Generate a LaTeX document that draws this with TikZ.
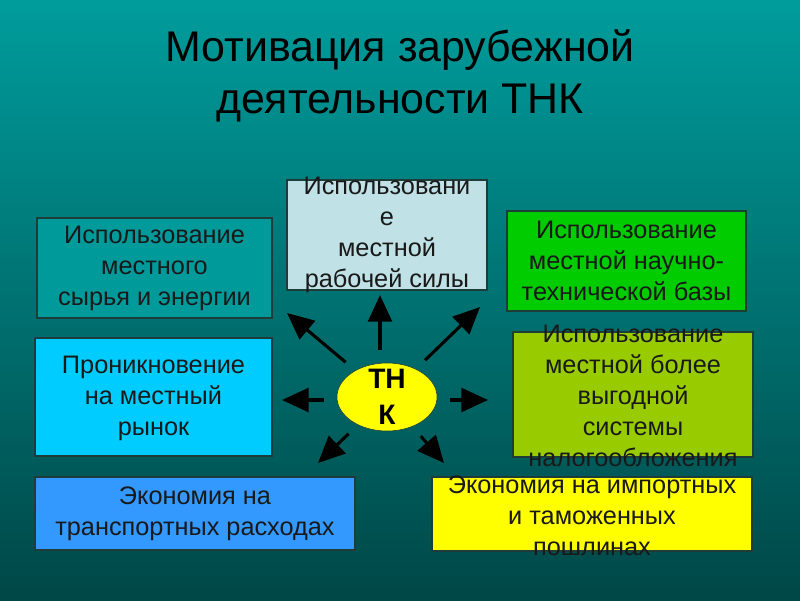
\documentclass[tikz,border=0pt]{standalone}
\usepackage{fontspec}
\setmainfont{Liberation Sans}
\usepackage{xcolor}
\usetikzlibrary{arrows.meta,shapes.geometric}
\definecolor{BgTop}{HTML}{009C9C}
\definecolor{BgBottom}{HTML}{004747}
\definecolor{BoxEdge}{HTML}{1E3D38}
\definecolor{RawFill}{HTML}{009A9A}
\definecolor{LabourFill}{HTML}{C0E2E6}
\definecolor{ScienceFill}{HTML}{00CC00}
\definecolor{TaxFill}{HTML}{99CC00}
\definecolor{MarketFill}{HTML}{00CCFF}
\definecolor{TransportFill}{HTML}{3399FF}
\definecolor{CustomsFill}{HTML}{FFFF00}
\definecolor{TnkFill}{HTML}{FFFF00}

\begin{document}
\begin{tikzpicture}[
	x=0.025cm, y=-0.025cm, % one unit = one slide pixel, y runs downward
	% Style for the slide heading
	heading/.style={
		align=center,
		font=\fontsize{30.5}{37}\selectfont,
		text=black
	},
	% Style for the coloured boxes
	reason box/.style={
		draw=BoxEdge,
		line width=0.8pt
	},
	% Style for the texts in the boxes
	reason text/.style={
		align=center,
		inner sep=0pt,
		font=\fontsize{18}{22}\selectfont,
		text=black!90
	},
	% Style for the central ellipse and its text
	tnk/.style={
		ellipse,
		draw=BoxEdge,
		fill=TnkFill,
		inner sep=0pt,
		minimum width=2.5cm,
		minimum height=1.7cm
	},
	tnk text/.style={
		align=center,
		inner sep=0pt,
		font=\fontsize{20}{26}\selectfont\bfseries
	},
	% Style for the arrows leaving the ellipse
	spoke/.style={
		draw=black,
		line width=2.2pt,
		-{Triangle[length=19pt,width=17pt]},
		shorten <=9pt
	}
	]
	
	% ================= BACKGROUND =================
	\shade[top color=BgTop, bottom color=BgBottom] (0,0) rectangle (800,600);
	
	% ================= HEADING =================
	\node[heading] (title) at (400,76) {Мотивация зарубежной\\деятельности ТНК};
	
	% ================= BOXES =================
	\draw[reason box, fill=RawFill]       ( 37,218) rectangle (272,318);
	\draw[reason box, fill=LabourFill]    (287,180) rectangle (487,290);
	\draw[reason box, fill=ScienceFill]   (507,211) rectangle (746,311);
	\draw[reason box, fill=MarketFill]    ( 35,338) rectangle (272,456);
	\draw[reason box, fill=TaxFill]       (513,332) rectangle (753,457);
	\draw[reason box, fill=TransportFill] ( 35,477) rectangle (355,550);
	\draw[reason box, fill=CustomsFill]   (432,477) rectangle (752,551);
	
	\node[reason text] (raw)       at (154.5,268) {Использование\\местного\\сырья и энергии};
	\node[reason text] (labour)    at (387,235)   {Использовани\\е\\местной\\рабочей силы};
	\node[reason text] (science)   at (626.5,261) {Использование\\местной научно-\\технической базы};
	\node[reason text] (market)    at (153.5,398) {Проникновение\\на местный\\рынок};
	\node[reason text] (tax)       at (633,396)   {Использование\\местной более\\выгодной\\системы\\налогообложения};
	\node[reason text] (transport) at (195,514)   {Экономия на\\транспортных расходах};
	\node[reason text] (customs)   at (592,516)   {Экономия на импортных\\и таможенных\\пошлинах};
	
	% ================= CENTRE =================
	\node[tnk] (centre) at (387,397) {};
	\node[tnk text] (centreText) at (centre) {ТН\\К};
	
	\coordinate (toLabour)    at (380,295);
	\coordinate (toRaw)       at (287,313);
	\coordinate (toScience)   at (480,307);
	\coordinate (toMarket)    at (282,400);
	\coordinate (toTax)       at (488,400);
	\coordinate (toTransport) at (318,463);
	\coordinate (toCustoms)   at (444,463);
	
	% ================= ARROWS =================
	\draw[spoke] (centre.north -| toLabour) -- (toLabour);
	\draw[spoke] (centre) -- (toRaw);
	\draw[spoke] (centre) -- (toScience);
	\draw[spoke] (centre.west |- toMarket) -- (toMarket);
	\draw[spoke] (centre.east |- toTax) -- (toTax);
	\draw[spoke] (centre) -- (toTransport);
	\draw[spoke] (centre) -- (toCustoms);
	
\end{tikzpicture}
\end{document}
